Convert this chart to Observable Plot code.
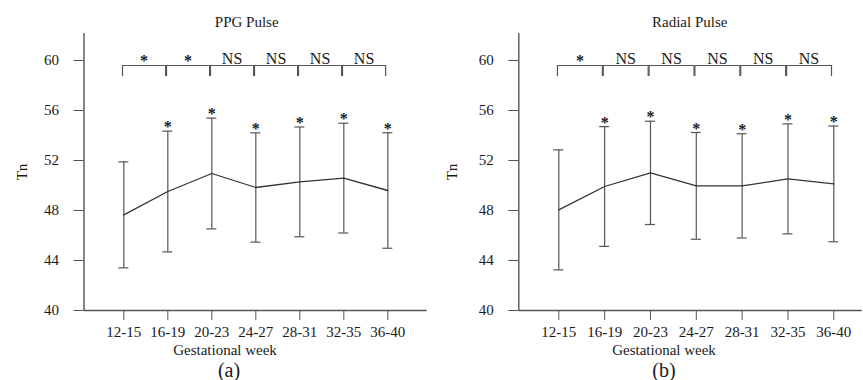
<!DOCTYPE html>
<html><head><meta charset="utf-8">
<script src="https://cdn.jsdelivr.net/npm/d3@7"></script>
<script src="https://cdn.jsdelivr.net/npm/@observablehq/plot@0.6"></script>
<style>
body{margin:0;background:#fff;}
#wrap{position:relative;width:863px;height:380px;overflow:hidden;font-family:"Liberation Serif","Times New Roman",serif;color:#1a1a1a;}
.panel{position:absolute;top:0;height:380px;}
.lbl{position:absolute;white-space:nowrap;transform:translate(-50%,-50%);line-height:1;}
</style></head><body><div id="wrap"></div>
<script>
// Categories
const weeks = ["12-15","16-19","20-23","24-27","28-31","32-35","36-40"];
const yTicks = [40, 44, 48, 52, 56, 60];

// (a) PPG Pulse: mean and SD of Tn
const ppgMean = [47.65, 49.52, 50.96, 49.84, 50.29, 50.59, 49.60];
const ppgSD   = [4.24, 4.83, 4.43, 4.37, 4.39, 4.39, 4.62];
const ppgPointSig = [false, true, true, true, true, true, true];
const ppgPairLabels = ["*", "*", "NS", "NS", "NS", "NS"];

// (b) Radial Pulse
const radMean = [48.05, 49.92, 51.01, 49.97, 49.97, 50.53, 50.13];
const radSD   = [4.80, 4.79, 4.13, 4.27, 4.17, 4.40, 4.63];
const radPointSig = [false, true, true, true, true, true, true];
const radPairLabels = ["*", "NS", "NS", "NS", "NS", "NS"];

const panels = [
  {title:"PPG Pulse", tag:"(a)", mean:ppgMean, sd:ppgSD, sig:ppgPointSig, pairs:ppgPairLabels,
   left:0, width:431, mL:83.5, mR:4.3, xMin:-0.905, xMax:6.895, titleX:246.7, xLabelX:225, tagX:229, labelOffset:67.5},
  {title:"Radial Pulse", tag:"(b)", mean:radMean, sd:radSD, sig:radPointSig, pairs:radPairLabels,
   left:431, width:432, mL:87.3, mR:1.3, xMin:-0.873, xMax:6.62, titleX:258.7, xLabelX:233, tagX:233, labelOffset:72}
];

const wrap = document.getElementById("wrap");
const LINE = "#555";
const TEXT = "#1a1a1a";
const BR_TOP = 59.6, BR_LEG = 58.72, BR_LBL = 59.76;

for (const p of panels) {
  const div = document.createElement("div");
  div.className = "panel";
  div.style.left = p.left + "px";
  div.style.width = p.width + "px";
  wrap.appendChild(div);

  const data = weeks.map((w, i) => ({i, week: w, mean: p.mean[i], lo: p.mean[i] - p.sd[i], hi: p.mean[i] + p.sd[i], sig: p.sig[i]}));
  const pairs = p.pairs.map((t, i) => ({i, t, a: i - 0.03, b: i + 0.95, c: i + 0.46}));
  const pxPerUnit = (p.width - p.mL - p.mR) / (p.xMax - p.xMin);
  const cap = 5 / pxPerUnit;

  const chart = Plot.plot({
    width: p.width,
    height: 345,
    marginTop: 33,
    marginBottom: 35,
    marginLeft: p.mL,
    marginRight: p.mR,
    style: {fontFamily: '"Liberation Serif","Times New Roman",serif', fontSize: "15px", color: TEXT, background: "transparent", overflow: "visible"},
    x: {domain: [p.xMin, p.xMax]},
    y: {domain: [40, 62.16]},
    marks: [
      Plot.axisX({ticks: d3.range(weeks.length), tickFormat: i => weeks[i], tickSize: 10, tickPadding: 6, stroke: LINE, fill: TEXT, label: null, fontSize: 15}),
      Plot.axisY({ticks: yTicks, tickSize: 10, tickPadding: 15, stroke: LINE, fill: TEXT, label: "Tn", labelAnchor: "center", labelOffset: p.labelOffset, labelArrow: "none", fontSize: 15}),
      Plot.ruleX([p.xMin], {stroke: LINE, strokeWidth: 1.4}),
      Plot.ruleY([40], {stroke: LINE, strokeWidth: 1.4}),
      // error bars
      Plot.ruleX(data, {x: "i", y1: "lo", y2: "hi", stroke: LINE, strokeWidth: 1.2}),
      Plot.ruleY(data, {y: "hi", x1: d => d.i - cap, x2: d => d.i + cap, stroke: LINE, strokeWidth: 1.2}),
      Plot.ruleY(data, {y: "lo", x1: d => d.i - cap, x2: d => d.i + cap, stroke: LINE, strokeWidth: 1.2}),
      // mean line
      Plot.line(data, {x: "i", y: "mean", stroke: "#333", strokeWidth: 1.3}),
      // stars above bars
      Plot.text(data.filter(d => d.sig), {x: "i", y: "hi", text: () => "*", lineAnchor: "bottom", dy: 1, fontSize: 16, fontWeight: "bold", fill: TEXT}),
      // brackets between adjacent groups
      Plot.ruleY(pairs, {y: () => BR_TOP, x1: "a", x2: "b", stroke: LINE, strokeWidth: 1.2}),
      Plot.ruleX(pairs, {x: "a", y1: () => BR_LEG, y2: () => BR_TOP, stroke: LINE, strokeWidth: 1.2}),
      Plot.ruleX(pairs, {x: "b", y1: () => BR_LEG, y2: () => BR_TOP, stroke: LINE, strokeWidth: 1.2}),
      Plot.text(pairs.filter(d => d.t !== "*"), {x: "c", y: () => BR_LBL, text: "t", lineAnchor: "bottom", fontSize: 16, fill: TEXT}),
      Plot.text(pairs.filter(d => d.t === "*"), {x: "c", y: () => BR_LBL, text: "t", lineAnchor: "bottom", dy: 2, fontSize: 16, fontWeight: "bold", fill: TEXT})
    ]
  });
  chart.style.position = "absolute";
  chart.style.left = "0px";
  chart.style.top = "0px";
  div.appendChild(chart);

  const mk = (txt, x, y, size) => {
    const l = document.createElement("div");
    l.className = "lbl";
    l.textContent = txt;
    l.style.left = x + "px";
    l.style.top = y + "px";
    l.style.fontSize = size + "px";
    div.appendChild(l);
  };
  mk(p.title, p.titleX, 21.7, 15);
  mk("Gestational week", p.xLabelX, 350, 15);
  mk(p.tag, p.tagX, 370, 20);
}
</script>
</body></html>
